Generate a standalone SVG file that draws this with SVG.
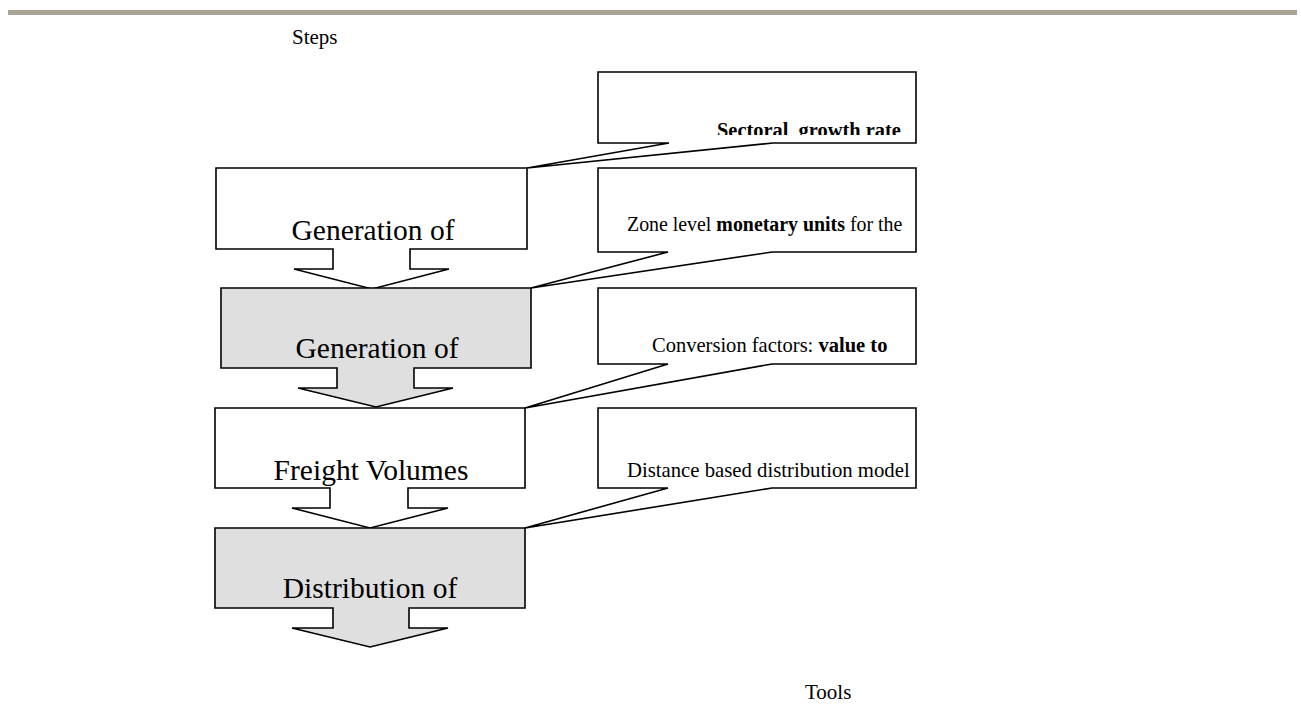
<svg xmlns="http://www.w3.org/2000/svg" width="1301" height="728" viewBox="0 0 1301 728">
<defs>
<style>
.shape{stroke:#000;stroke-width:1.6;stroke-linejoin:miter}
.white{fill:#fff}
.gray{fill:#dfdfdf}
.step{font-family:"Liberation Serif","Times New Roman",serif;font-size:29.5px;fill:#000;text-anchor:middle}
.tool{font-family:"Liberation Serif","Times New Roman",serif;font-size:21.5px;fill:#000;white-space:pre}
.head{font-family:"Liberation Serif","Times New Roman",serif;font-size:21px;fill:#000}
</style>
<clipPath id="c1"><rect x="599" y="73" width="316" height="62"/></clipPath>
<clipPath id="c2"><rect x="599" y="169" width="316" height="82"/></clipPath>
<clipPath id="c3"><rect x="599" y="289" width="316" height="74"/></clipPath>
<clipPath id="c4"><rect x="599" y="409" width="316" height="78"/></clipPath>
</defs>
<rect x="8" y="10" width="1289" height="5" fill="#a8a596"/>
<text class="head" x="292" y="44">Steps</text>
<text class="head" x="805" y="699">Tools</text>

<g id="connectors"></g>

<g id="tool1">
<polygon class="shape white" points="598,72 916,72 916,143 773,143 527,168 669,143 598,143"/>
<g clip-path="url(#c1)"><text class="tool" transform="translate(717,137) scale(0.95,1)" font-weight="bold" font-size="23">Sectoral  growth rate</text></g>
</g>
<g id="tool2">
<polygon class="shape white" points="598,168 916,168 916,252 772,252 531,288 668,252 598,252"/>
<g clip-path="url(#c2)"><text class="tool" transform="translate(627,231) scale(0.925,1)">Zone level <tspan font-weight="bold">monetary units</tspan> for the</text></g>
</g>
<g id="tool3">
<polygon class="shape white" points="598,288 916,288 916,364 772,364 525,408 668,364 598,364"/>
<g clip-path="url(#c3)"><text class="tool" transform="translate(652,352) scale(0.955,1)">Conversion factors: <tspan font-weight="bold">value to</tspan></text></g>
</g>
<g id="tool4">
<polygon class="shape white" points="598,408 916,408 916,488 772,488 525,528 668,488 598,488"/>
<g clip-path="url(#c4)"><text class="tool" transform="translate(627,477) scale(0.965,1)">Distance based distribution model</text></g>
</g>

<g id="step1">
<polygon class="shape white" points="216,168 527,168 527,249 410,249 410,269 449,269 372,289 294,269 333,269 333,249 216,249"/>
<text class="step" x="373" y="240">Generation of</text>
</g>
<g id="step2">
<polygon class="shape gray" points="221,288 531,288 531,368 414,368 414,388 453,388 376,407 298,388 337,388 337,368 221,368"/>
<text class="step" x="377" y="358">Generation of</text>
</g>
<g id="step3">
<polygon class="shape white" points="215,408 525,408 525,488 408,488 408,508 448,508 370,528 292,508 330,508 330,488 215,488"/>
<text class="step" x="371" y="480">Freight Volumes</text>
</g>
<g id="step4">
<polygon class="shape gray" points="215,528 525,528 525,608 409,608 409,628 448,628 370,647 292,628 333,628 333,608 215,608"/>
<text class="step" x="370" y="598">Distribution of</text>
</g>
</svg>
